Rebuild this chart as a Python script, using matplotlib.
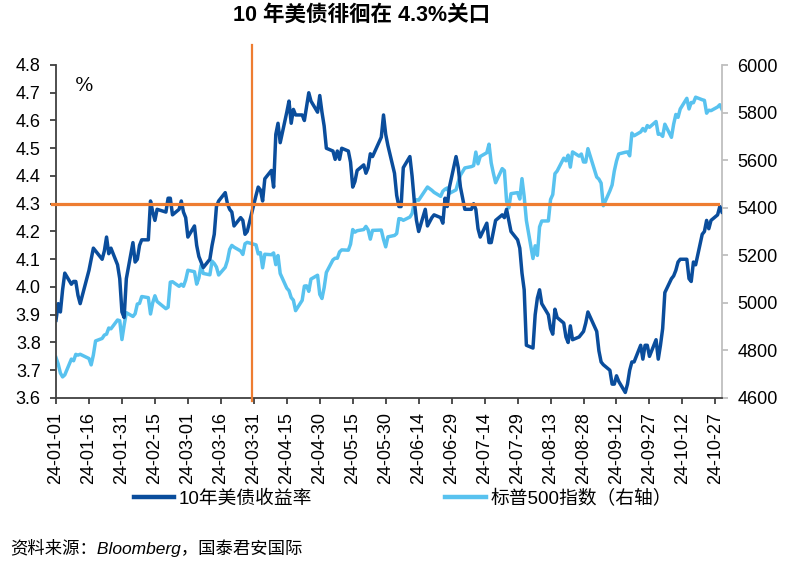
import matplotlib
matplotlib.use("Agg")
import matplotlib.pyplot as plt
import pandas as pd

plt.rcParams['font.family'] = ['Liberation Sans', 'Noto Sans CJK SC', 'DejaVu Sans']

# ---------------- data ----------------
dates_jan = ["2024-01-01", "2024-01-02", "2024-01-03", "2024-01-04", "2024-01-05", "2024-01-08", "2024-01-09",
             "2024-01-10", "2024-01-11", "2024-01-12", "2024-01-16", "2024-01-17", "2024-01-18", "2024-01-19",
             "2024-01-22", "2024-01-23", "2024-01-24", "2024-01-25", "2024-01-26", "2024-01-29", "2024-01-30",
             "2024-01-31"]
yld_jan = [3.88, 3.94, 3.91, 3.99, 4.05, 4.01, 4.02, 4.02, 3.97, 3.94, 4.06, 4.10, 4.14, 4.13, 4.10, 4.13,
           4.18, 4.12, 4.14, 4.08, 4.03, 3.91]
spx_jan = [4769.83, 4742.83, 4704.81, 4688.68, 4697.24, 4763.54, 4756.50, 4783.45, 4780.24, 4783.83, 4765.98,
           4739.21, 4780.94, 4839.81, 4850.43, 4864.60, 4868.55, 4894.16, 4890.97, 4927.93, 4924.97, 4845.65]

dates_feb = ["2024-02-01", "2024-02-02", "2024-02-05", "2024-02-06", "2024-02-07", "2024-02-08", "2024-02-09",
             "2024-02-12", "2024-02-13", "2024-02-14", "2024-02-15", "2024-02-16", "2024-02-20", "2024-02-21",
             "2024-02-22", "2024-02-23", "2024-02-26", "2024-02-27", "2024-02-28", "2024-02-29"]
yld_feb = [3.89, 4.03, 4.16, 4.09, 4.10, 4.15, 4.17, 4.17, 4.31, 4.27, 4.24, 4.28, 4.27, 4.32, 4.32, 4.26,
           4.28, 4.31, 4.27, 4.25]
spx_feb = [4906.19, 4958.61, 4942.81, 4954.23, 4995.06, 4997.91, 5026.61, 5021.84, 4953.17, 5000.62, 5029.73,
           5005.57, 4975.51, 4981.80, 5087.03, 5088.80, 5069.53, 5078.18, 5069.76, 5096.27]

dates_mar = ["2024-03-01", "2024-03-04", "2024-03-05", "2024-03-06", "2024-03-07", "2024-03-08", "2024-03-11",
             "2024-03-12", "2024-03-13", "2024-03-14", "2024-03-15", "2024-03-18", "2024-03-19", "2024-03-20",
             "2024-03-21", "2024-03-22", "2024-03-25", "2024-03-26", "2024-03-27", "2024-03-28"]
yld_mar = [4.18, 4.22, 4.15, 4.11, 4.09, 4.07, 4.10, 4.15, 4.19, 4.29, 4.31, 4.34, 4.30, 4.28, 4.27, 4.22,
           4.25, 4.24, 4.19, 4.20]
spx_mar = [5137.08, 5130.95, 5078.65, 5104.76, 5157.36, 5123.69, 5117.94, 5175.27, 5165.31, 5150.48, 5117.09,
           5149.42, 5178.51, 5224.62, 5241.53, 5234.18, 5218.19, 5203.58, 5248.49, 5254.35]

dates_apr = ["2024-04-01", "2024-04-02", "2024-04-03", "2024-04-04", "2024-04-05", "2024-04-08", "2024-04-09",
             "2024-04-10", "2024-04-11", "2024-04-12", "2024-04-15", "2024-04-16", "2024-04-17", "2024-04-18",
             "2024-04-19", "2024-04-22", "2024-04-23", "2024-04-24", "2024-04-25", "2024-04-26", "2024-04-29",
             "2024-04-30"]
yld_apr = [4.33, 4.36, 4.35, 4.31, 4.39, 4.42, 4.36, 4.55, 4.59, 4.52, 4.63, 4.67, 4.59, 4.64, 4.62, 4.62,
           4.60, 4.65, 4.70, 4.67, 4.63, 4.69]
spx_apr = [5243.77, 5205.81, 5211.49, 5147.21, 5204.34, 5202.39, 5209.91, 5160.64, 5199.06, 5123.41, 5061.82,
           5051.41, 5022.21, 5011.12, 4967.23, 5010.60, 5070.55, 5071.63, 5048.42, 5099.96, 5116.17, 5035.69]

dates_may = ["2024-05-01", "2024-05-02", "2024-05-03", "2024-05-06", "2024-05-07", "2024-05-08", "2024-05-09",
             "2024-05-10", "2024-05-13", "2024-05-14", "2024-05-15", "2024-05-16", "2024-05-17", "2024-05-20",
             "2024-05-21", "2024-05-22", "2024-05-23", "2024-05-24", "2024-05-28", "2024-05-29", "2024-05-30",
             "2024-05-31"]
yld_may = [4.63, 4.58, 4.50, 4.49, 4.46, 4.49, 4.46, 4.50, 4.49, 4.45, 4.36, 4.38, 4.42, 4.44, 4.41, 4.43,
           4.48, 4.47, 4.54, 4.62, 4.55, 4.51]
spx_may = [5018.39, 5064.20, 5127.79, 5180.74, 5187.70, 5187.67, 5214.08, 5222.68, 5221.42, 5246.68, 5308.15,
           5297.10, 5303.27, 5308.13, 5321.41, 5307.01, 5267.84, 5304.72, 5306.04, 5266.95, 5235.48, 5277.51]

dates_jun = ["2024-06-03", "2024-06-04", "2024-06-05", "2024-06-06", "2024-06-07", "2024-06-10", "2024-06-11",
             "2024-06-12", "2024-06-13", "2024-06-14", "2024-06-17", "2024-06-18", "2024-06-20", "2024-06-21",
             "2024-06-24", "2024-06-25", "2024-06-26", "2024-06-27", "2024-06-28"]
yld_jun = [4.41, 4.33, 4.29, 4.29, 4.43, 4.47, 4.40, 4.31, 4.24, 4.20, 4.28, 4.22, 4.25, 4.26, 4.25, 4.23,
           4.32, 4.29, 4.36]
spx_jun = [5283.40, 5291.34, 5354.03, 5352.96, 5346.99, 5360.79, 5375.32, 5421.03, 5433.74, 5431.60, 5473.23,
           5487.03, 5473.17, 5464.62, 5447.87, 5469.30, 5477.90, 5482.87, 5460.48]

dates_jul = ["2024-07-01", "2024-07-02", "2024-07-03", "2024-07-05", "2024-07-08", "2024-07-09", "2024-07-10",
             "2024-07-11", "2024-07-12", "2024-07-15", "2024-07-16", "2024-07-17", "2024-07-18", "2024-07-19",
             "2024-07-22", "2024-07-23", "2024-07-24", "2024-07-25", "2024-07-26", "2024-07-29", "2024-07-30",
             "2024-07-31"]
yld_jul = [4.47, 4.43, 4.36, 4.28, 4.28, 4.30, 4.28, 4.21, 4.18, 4.23, 4.16, 4.16, 4.20, 4.24, 4.26, 4.25,
           4.28, 4.24, 4.20, 4.17, 4.14, 4.05]
spx_jul = [5475.09, 5509.01, 5537.02, 5567.19, 5572.85, 5576.98, 5633.91, 5584.54, 5615.35, 5631.22, 5667.20,
           5588.27, 5544.59, 5505.00, 5564.41, 5555.74, 5427.13, 5399.22, 5459.10, 5463.54, 5436.44, 5522.30]

dates_aug = ["2024-08-01", "2024-08-02", "2024-08-05", "2024-08-06", "2024-08-07", "2024-08-08", "2024-08-09",
             "2024-08-12", "2024-08-13", "2024-08-14", "2024-08-15", "2024-08-16", "2024-08-19", "2024-08-20",
             "2024-08-21", "2024-08-22", "2024-08-23", "2024-08-26", "2024-08-27", "2024-08-28", "2024-08-29",
             "2024-08-30"]
yld_aug = [3.99, 3.79, 3.78, 3.90, 3.96, 3.99, 3.94, 3.90, 3.85, 3.83, 3.92, 3.89, 3.87, 3.82, 3.80, 3.86,
           3.81, 3.82, 3.83, 3.84, 3.87, 3.91]
spx_aug = [5446.68, 5346.56, 5186.33, 5240.03, 5199.50, 5319.31, 5344.16, 5344.39, 5434.43, 5455.21, 5543.22,
           5554.25, 5608.25, 5597.12, 5620.85, 5570.64, 5634.61, 5616.84, 5625.80, 5592.18, 5591.96, 5648.40]

dates_sep = ["2024-09-03", "2024-09-04", "2024-09-05", "2024-09-06", "2024-09-09", "2024-09-10", "2024-09-11",
             "2024-09-12", "2024-09-13", "2024-09-16", "2024-09-17", "2024-09-18", "2024-09-19", "2024-09-20",
             "2024-09-23", "2024-09-24", "2024-09-25", "2024-09-26", "2024-09-27", "2024-09-30"]
yld_sep = [3.84, 3.77, 3.73, 3.72, 3.70, 3.65, 3.65, 3.68, 3.66, 3.62, 3.65, 3.70, 3.73, 3.73, 3.79, 3.74,
           3.79, 3.79, 3.75, 3.81]
spx_sep = [5528.93, 5520.07, 5503.41, 5408.42, 5471.05, 5495.52, 5554.13, 5595.76, 5626.02, 5633.09, 5634.58,
           5618.26, 5713.64, 5702.55, 5718.57, 5732.93, 5722.26, 5745.37, 5738.17, 5762.48]

dates_oct = ["2024-10-01", "2024-10-02", "2024-10-03", "2024-10-04", "2024-10-07", "2024-10-08", "2024-10-09",
             "2024-10-10", "2024-10-11", "2024-10-14", "2024-10-15", "2024-10-16", "2024-10-17", "2024-10-18",
             "2024-10-21", "2024-10-22", "2024-10-23", "2024-10-24", "2024-10-25", "2024-10-28", "2024-10-29",
             "2024-10-30"]
yld_oct = [3.74, 3.79, 3.85, 3.98, 4.03, 4.04, 4.06, 4.09, 4.10, 4.10, 4.03, 4.02, 4.09, 4.08, 4.19, 4.20,
           4.24, 4.21, 4.24, 4.26, 4.29, 4.27]
spx_oct = [5708.75, 5709.54, 5699.94, 5751.07, 5695.94, 5751.13, 5792.04, 5780.05, 5815.03, 5859.85, 5815.26,
           5842.47, 5841.47, 5864.67, 5853.98, 5851.20, 5797.42, 5809.86, 5808.12, 5823.52, 5832.92, 5813.67]

series_names = ["10年美债收益率", "标普500指数（右轴）"]
left_ticks = [3.6, 3.7, 3.8, 3.9, 4.0, 4.1, 4.2, 4.3, 4.4, 4.5, 4.6, 4.7, 4.8]
right_ticks = [4600, 4800, 5000, 5200, 5400, 5600, 5800, 6000]
x_start, x_end = "2024-01-01", "2024-10-30"
ref_level = 4.3
ref_date = "2024-03-30"
title = "10 年美债徘徊在 4.3%关口"
source = "资料来源：Bloomberg，国泰君安国际"

dates = pd.to_datetime(dates_jan + dates_feb + dates_mar + dates_apr + dates_may + dates_jun +
                       dates_jul + dates_aug + dates_sep + dates_oct)
yld = yld_jan + yld_feb + yld_mar + yld_apr + yld_may + yld_jun + yld_jul + yld_aug + yld_sep + yld_oct
spx = spx_jan + spx_feb + spx_mar + spx_apr + spx_may + spx_jun + spx_jul + spx_aug + spx_sep + spx_oct

# ---------------- figure ----------------
DARK = "#0A4D9C"
LIGHT = "#58C2EF"
ORANGE = "#EE7D31"

fig = plt.figure(figsize=(7.92, 5.67), dpi=100)
ax = fig.add_axes([56 / 792, 1 - 398 / 567, (722 - 56) / 792, (398 - 65) / 567])
ax2 = ax.twinx()
ax.set_zorder(ax2.get_zorder() + 1)
ax.patch.set_visible(False)

l2, = ax2.plot(dates, spx, color=LIGHT, lw=2.5, solid_joinstyle='round', label=series_names[1])
l1, = ax.plot(dates, yld, color=DARK, lw=2.5, solid_joinstyle='round', label=series_names[0])

ax.set_ylim(left_ticks[0], left_ticks[-1])
ax.set_yticks(left_ticks)
ax.set_yticklabels([f"{v:.1f}" for v in left_ticks])
ax2.set_ylim(right_ticks[0], right_ticks[-1])
ax2.set_yticks(right_ticks)
ax2.set_yticklabels([str(v) for v in right_ticks])

x0, x1 = pd.Timestamp(x_start), pd.Timestamp(x_end)
ax.set_xlim(x0, x1)
xticks = pd.date_range(x0, x1, freq="15D")
ax.set_xticks(xticks)
ax.set_xticklabels([d.strftime("%y-%m-%d") for d in xticks], rotation=90)

# reference lines
ax.plot([x0 - pd.Timedelta(days=2), x1 - pd.Timedelta(days=1.6)], [ref_level, ref_level],
        color=ORANGE, lw=2.3, zorder=5, clip_on=False)
rd = pd.Timestamp(ref_date)
ax.plot([rd, rd], [4.872, 3.589], color=ORANGE, lw=1.6, zorder=5, clip_on=False)

# spines & ticks
ax.spines["top"].set_visible(False)
ax2.spines["top"].set_visible(False)
ax2.spines["left"].set_visible(False)
ax2.spines["bottom"].set_visible(False)
ax.spines["right"].set_visible(False)
ax.spines["left"].set_color("#404040")
ax.spines["bottom"].set_color("#404040")
ax.spines["left"].set_linewidth(1.3)
ax.spines["bottom"].set_linewidth(1.3)
ax2.spines["right"].set_color("#BFBFBF")
ax2.spines["right"].set_linewidth(1.3)

ax.tick_params(axis="y", direction="out", length=4.5, width=1.3, color="#404040",
               labelsize=13, pad=6.5, labelcolor="black")
ax.tick_params(axis="x", direction="out", length=4.5, width=1.3, color="#404040",
               labelsize=13, pad=5.5, labelcolor="black")
ax2.tick_params(axis="y", direction="out", length=4.5, width=1.3, color="#BFBFBF",
                labelsize=13, pad=6.5, labelcolor="black")

ax.text((84 - 56) / 666, 1 - (86 - 65) / 333, "%", transform=ax.transAxes, ha="center", va="center",
        fontsize=14, family=["DejaVu Serif"])

fig.text(362 / 792, 1 - 15 / 567, title, ha="center", va="center", fontsize=15.5, fontweight="bold",
         family=["Liberation Sans", "Noto Sans CJK SC"])

leg = fig.legend(handles=[l1, l2], loc="center left", bbox_to_anchor=(117 / 792, 1 - 499 / 567),
                 ncol=2, frameon=False, handlelength=2.15, handletextpad=0.25,
                 columnspacing=7.1, prop={"family": ["Liberation Sans", "Noto Sans CJK SC"], "size": 13.5})
for h in leg.legend_handles:
    h.set_linewidth(3.2)

fig.text(10 / 792, 1 - 548 / 567, source, ha="left", va="center", fontsize=12.5, style="italic",
         family=["Liberation Sans", "Noto Sans CJK SC"])

fig.savefig("out.png", dpi=100)
